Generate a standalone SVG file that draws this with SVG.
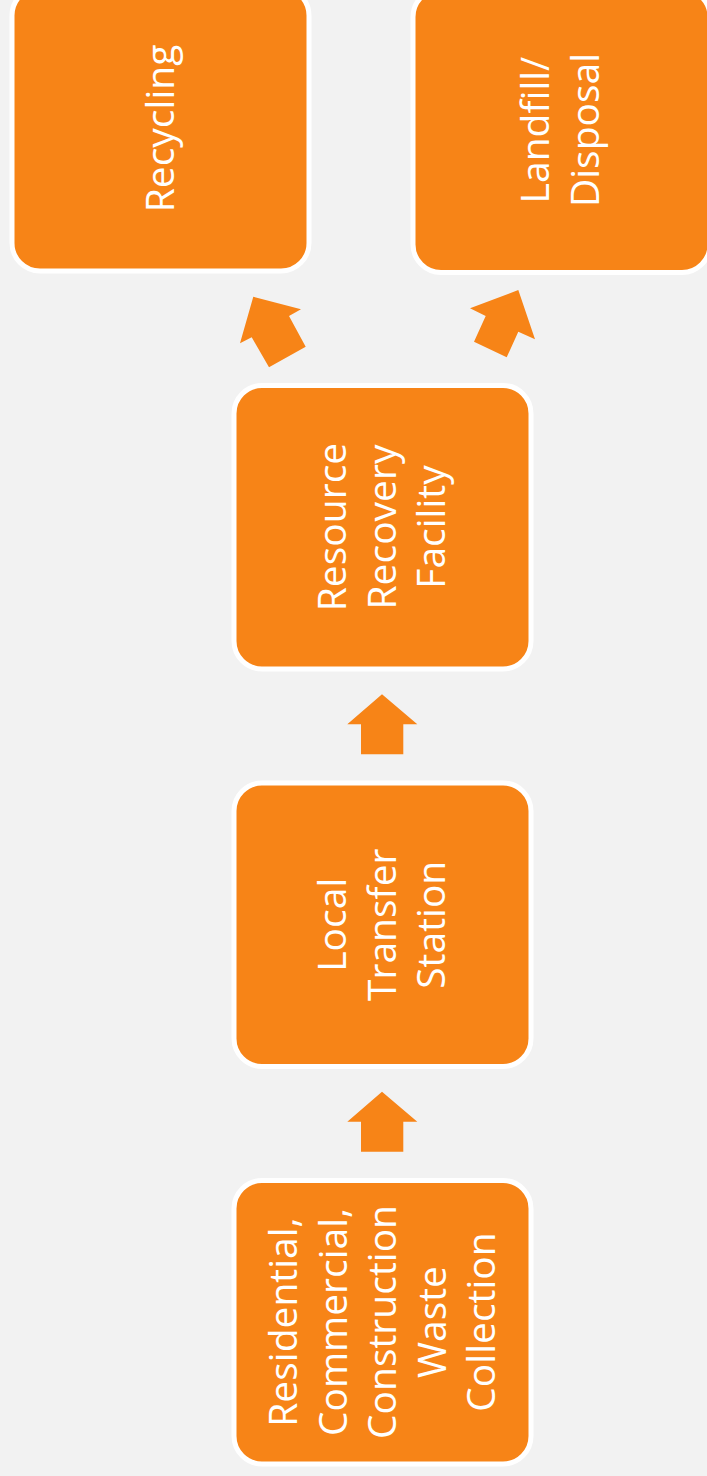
<svg xmlns="http://www.w3.org/2000/svg" width="707" height="1476" viewBox="0 0 707 1476">
<style>
.box{fill:#F78417;stroke:#FFFFFF;stroke-width:5}
.arr{fill:#F78417}
.lbl{font-family:"Open Sans","Noto Sans",sans-serif;font-size:39px;fill:#FFFFFF;text-anchor:middle}
</style>
<rect width="707" height="1476" fill="#F2F2F2"/>
<g id="recycling">
<rect class="box" x="12" y="-12.5" width="297" height="283.5" rx="28"/>
<text class="lbl" x="174" y="128.5" transform="rotate(-90 174 128.5)">Recycling</text>
</g>
<g id="landfill">
<rect class="box" x="413" y="-11" width="297" height="283.5" rx="28"/>
<text class="lbl" x="549" y="130" transform="rotate(-90 549 130)">Landfill/</text>
<text class="lbl" x="599" y="130" transform="rotate(-90 599 130)">Disposal</text>
</g>
<g id="rrf">
<rect class="box" x="234" y="385.5" width="297" height="283.5" rx="28"/>
<text class="lbl" x="346" y="527" transform="rotate(-90 346 527)">Resource</text>
<text class="lbl" x="395.5" y="527" transform="rotate(-90 395.5 527)">Recovery</text>
<text class="lbl" x="445" y="527" transform="rotate(-90 445 527)">Facility</text>
</g>
<g id="lts">
<rect class="box" x="234" y="783" width="297" height="283.5" rx="28"/>
<text class="lbl" x="346" y="924.75" transform="rotate(-90 346 924.75)">Local</text>
<text class="lbl" x="395.5" y="924.75" transform="rotate(-90 395.5 924.75)">Transfer</text>
<text class="lbl" x="445" y="924.75" transform="rotate(-90 445 924.75)">Station</text>
</g>
<g id="collection">
<rect class="box" x="234" y="1180.5" width="297" height="283.5" rx="28"/>
<text class="lbl" x="297" y="1322" transform="rotate(-90 297 1322)">Residential,</text>
<text class="lbl" x="346.5" y="1322" transform="rotate(-90 346.5 1322)">Commercial,</text>
<text class="lbl" x="396" y="1322" transform="rotate(-90 396 1322)">Construction</text>
<text class="lbl" x="445.5" y="1322" transform="rotate(-90 445.5 1322)">Waste</text>
<text class="lbl" x="495" y="1322" transform="rotate(-90 495 1322)">Collection</text>
</g>
<g id="connectors">
<polygon class="arr" points="382,1091.7 417.3,1121.7 403.3,1121.7 403.3,1151.7 361,1151.7 361,1121.7 347.3,1121.7"/>
<polygon class="arr" points="382,694.3 417.3,724.3 403.3,724.3 403.3,754.3 361,754.3 361,724.3 347.3,724.3"/>
<polygon class="arr" points="253.3,296.7 301,309.3 289,316 305.7,346.7 269,367.3 251.7,337.3 240,343.3"/>
<polygon class="arr" points="518.3,290 535,339.3 518.3,331.7 506.7,357.3 474,341.7 485.7,316 470,308.3"/>
</g>
</svg>
